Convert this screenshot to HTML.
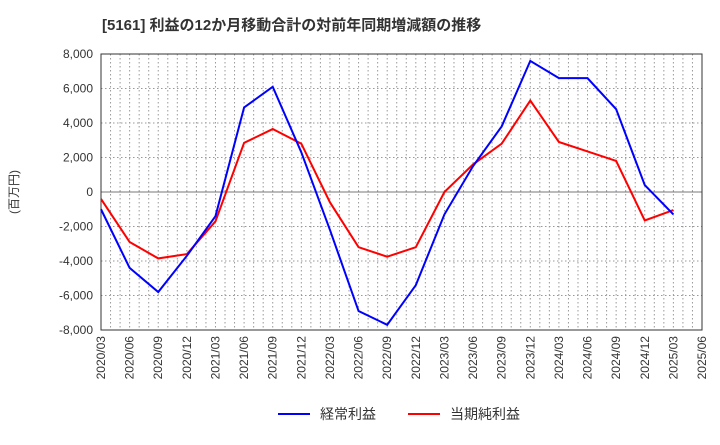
<!DOCTYPE html>
<html><head><meta charset="utf-8"><style>
body{margin:0;background:#fff;font-family:"Liberation Sans","Noto Sans CJK JP",sans-serif;}
</style></head><body>
<svg width="720" height="440" xmlns="http://www.w3.org/2000/svg" font-family="Liberation Sans, Noto Sans CJK JP, sans-serif">
<text x="102" y="30" font-size="15" font-weight="bold" fill="#333">[5161]  利益の12か月移動合計の対前年同期増減額の推移</text>
<text transform="translate(18,192) rotate(-90)" font-size="12" fill="#333" text-anchor="middle">(百万円)</text>
<g id="grid"></g>
<g id="axes"></g>
<g id="series"></g>
<g>
<line x1="278" y1="414" x2="310" y2="414" stroke="#0000ff" stroke-width="2"/>
<text x="320" y="419" font-size="14" fill="#333">経常利益</text>
<line x1="408" y1="414" x2="440" y2="414" stroke="#ff0000" stroke-width="2"/>
<text x="450" y="419" font-size="14" fill="#333">当期純利益</text>
</g>
</svg>
<script>
const categories=["2020/03","2020/06","2020/09","2020/12","2021/03","2021/06","2021/09","2021/12","2022/03","2022/06","2022/09","2022/12","2023/03","2023/06","2023/09","2023/12","2024/03","2024/06","2024/09","2024/12","2025/03","2025/06"];
const ordinaryProfit=[-1000,-4400,-5800,-3700,-1400,4900,6100,2300,-2200,-6900,-7700,-5400,-1300,1500,3800,7600,6600,6600,4800,400,-1300];
const netProfit=[-400,-2900,-3850,-3600,-1700,2850,3650,2800,-600,-3200,-3750,-3200,0,1600,2800,5300,2900,2350,1800,-1650,-1050];
const yTicks=[-8000,-6000,-4000,-2000,0,2000,4000,6000,8000];
const NS="http://www.w3.org/2000/svg";
const L=101,R=702,T=54,B=330;
const x=i=>L+i*(R-L)/(categories.length-1);
const y=v=>B-(v+8000)/16000*(B-T);
function mk(tag,a,p){const e=document.createElementNS(NS,tag);for(const k in a)e.setAttribute(k,a[k]);p.appendChild(e);return e;}
const grid=document.getElementById('grid'),axes=document.getElementById('axes'),series=document.getElementById('series');
const nMonths=(categories.length-1)*3;
for(let m=1;m<nMonths;m++){const xx=L+m*(R-L)/nMonths;const g=mk('line',{x1:xx,x2:xx,y1:T,y2:B,stroke:'#999','stroke-dasharray':'1.5,2.5'},grid);

}
yTicks.forEach(v=>{const yy=y(v);
const g=mk('line',{x1:L,x2:R,y1:yy,y2:yy,stroke:v===0?'#777':'#999','stroke-dasharray':v===0?'':'1.5,2.5'},grid);


const t=mk('text',{x:L-8,y:yy+4,'font-size':12,fill:'#333','text-anchor':'end'},axes);t.textContent=v.toLocaleString('en-US');

});
categories.forEach((c,i)=>{const t=mk('text',{transform:`translate(${x(i)+4},${B+6}) rotate(-90)`,'font-size':12,fill:'#333','text-anchor':'end'},axes);t.textContent=c;

});
const frame=mk('rect',{x:L,y:T,width:R-L,height:B-T,fill:'none',stroke:'#333'},axes);


function line(data,color,name){const p=mk('polyline',{points:data.map((v,i)=>x(i)+','+y(v)).join(' '),fill:'none',stroke:color,'stroke-width':2},series);

}
line(netProfit,'#ff0000','net-profit-line');
line(ordinaryProfit,'#0000ff','ordinary-profit-line');
</script>
</body></html>
